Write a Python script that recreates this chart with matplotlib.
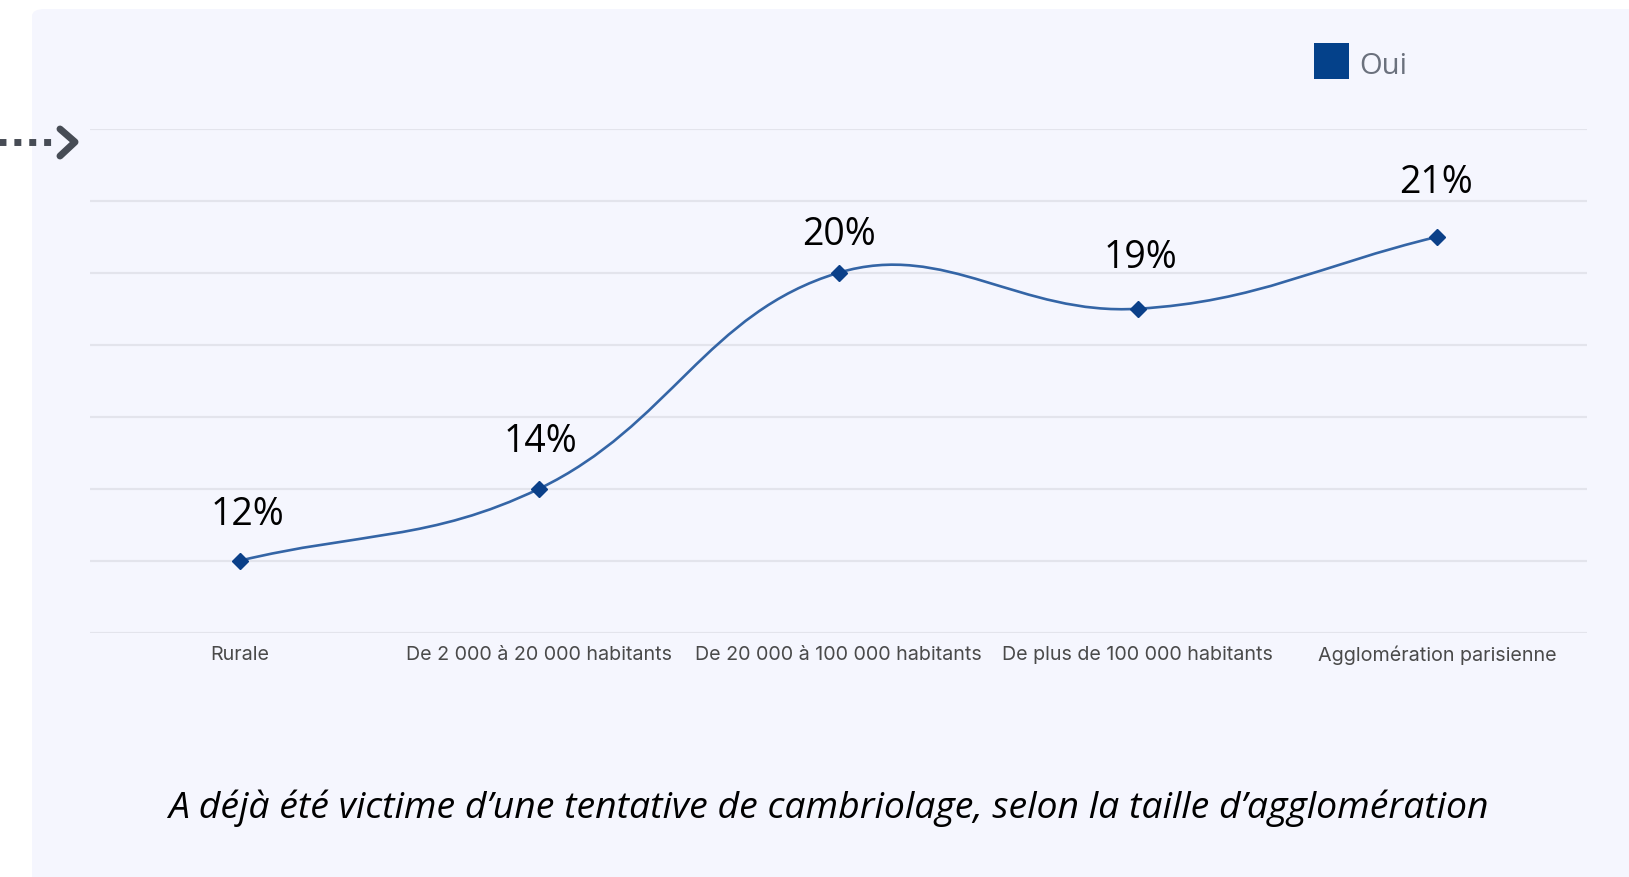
import numpy as np
import matplotlib
matplotlib.use("Agg")
import matplotlib.pyplot as plt
from matplotlib.patches import FancyBboxPatch, Rectangle, PathPatch
from matplotlib.path import Path
from matplotlib.lines import Line2D

# données
categories = ["Rurale", "De 2 000 à 20 000 habitants", "De 20 000 à 100 000 habitants",
              "De plus de 100 000 habitants", "Agglomération parisienne"]
oui = [12, 14, 20, 19, 21]
labels = ["12%", "14%", "20%", "19%", "21%"]
serie = "Oui"
titre = "A déjà été victime d\u2019une tentative de cambriolage, selon la taille d\u2019agglomération"

# décalage des étiquettes (points)
lab_dx = [5.5, 1, 0, 2, -1]
lab_dy = [26, 26.6, 20.2, 29.5, 31.7]

W, H = 1629, 877
fig = plt.figure(figsize=(W / 100, H / 100), dpi=100)
fig.patch.set_facecolor("white")

# fond de la carte
fig.add_artist(FancyBboxPatch((32 / W, -0.05), 1.0, 1 - 9 / H + 0.05,
                              boxstyle="round,pad=0,rounding_size=0.008",
                              transform=fig.transFigure, fc="#F5F6FE", ec="none", zorder=0))

# flèche pointillée à gauche
y_ar = 1 - 142 / H
fig.add_artist(Line2D([-14 / W, 53 / W], [y_ar, y_ar], transform=fig.transFigure,
                      color="#474C55", lw=5.0, linestyle=(0, (1, 8 / 7)),
                      solid_capstyle="butt", dash_capstyle="butt"))
fig.add_artist(Line2D([60 / W, 75 / W, 60 / W], [1 - 129 / H, y_ar, 1 - 156 / H],
                      transform=fig.transFigure, color="#474C55", lw=5.0,
                      solid_capstyle="round", solid_joinstyle="round"))

ax = fig.add_axes([90 / W, 1 - 632.7 / H, (1587 - 90) / W, (632.7 - 128.8) / H])
ax.set_facecolor("none")
x = np.arange(len(categories))
ax.set_xlim(-0.5, len(categories) - 0.5)
ax.set_ylim(10, 24)
ax.set_yticks(np.arange(10, 25, 2))
ax.yaxis.grid(True, color="#E3E4EC", lw=1.6)
ax.set_axisbelow(True)
ax.tick_params(axis="y", length=0, labelleft=False)
for s in ax.spines.values():
    s.set_visible(False)
ax.set_xticks(x)
ax.set_xticklabels(categories, fontsize=14.2, color="#4A4A4A", family="Inter")
ax.tick_params(axis="x", length=0, pad=9.5)

# courbe lissée (tension 0.4, style Chart.js) calculée en pixels
fig.canvas.draw()
pts = ax.transData.transform(np.column_stack([x, oui]))
t = 0.4
cps = []
for i in range(len(pts)):
    prev = pts[max(i - 1, 0)]
    cur = pts[i]
    nxt = pts[min(i + 1, len(pts) - 1)]
    d01 = np.hypot(*(cur - prev))
    d12 = np.hypot(*(nxt - cur))
    tot = d01 + d12
    s01 = d01 / tot if tot else 0
    s12 = d12 / tot if tot else 0
    cps.append((cur - t * s01 * (nxt - prev), cur + t * s12 * (nxt - prev)))
verts = [pts[0]]
codes = [Path.MOVETO]
for i in range(1, len(pts)):
    verts += [cps[i - 1][1], cps[i][0], pts[i]]
    codes += [Path.CURVE4] * 3
verts = ax.transData.inverted().transform(np.array(verts))
ax.add_patch(PathPatch(Path(verts, codes), fc="none", ec="#3465A6", lw=1.9, zorder=3))

ax.plot(x, oui, linestyle="none", marker="D", markersize=8, color="#0B4089", zorder=4)

for xi, yi, lab, dx, dy in zip(x, oui, labels, lab_dx, lab_dy):
    ax.annotate(lab, (xi, yi), xytext=(dx, dy), textcoords="offset points",
                ha="center", va="baseline", fontsize=27, family="Open Sans", color="black")

# légende
fig.add_artist(Rectangle((1314 / W, 1 - 79 / H), 35 / W, 36 / H, transform=fig.transFigure,
                         fc="#04418A", ec="none"))
fig.text(1359 / W, 1 - 66 / H, serie, fontsize=21, family="Open Sans", color="#6B717D",
         ha="left", va="center")

fig.text(828 / W, 1 - 808 / H, titre, fontsize=26.9, family="Open Sans", style="italic",
         color="black", ha="center", va="center")

fig.savefig("out.png", dpi=100, facecolor=fig.get_facecolor())
